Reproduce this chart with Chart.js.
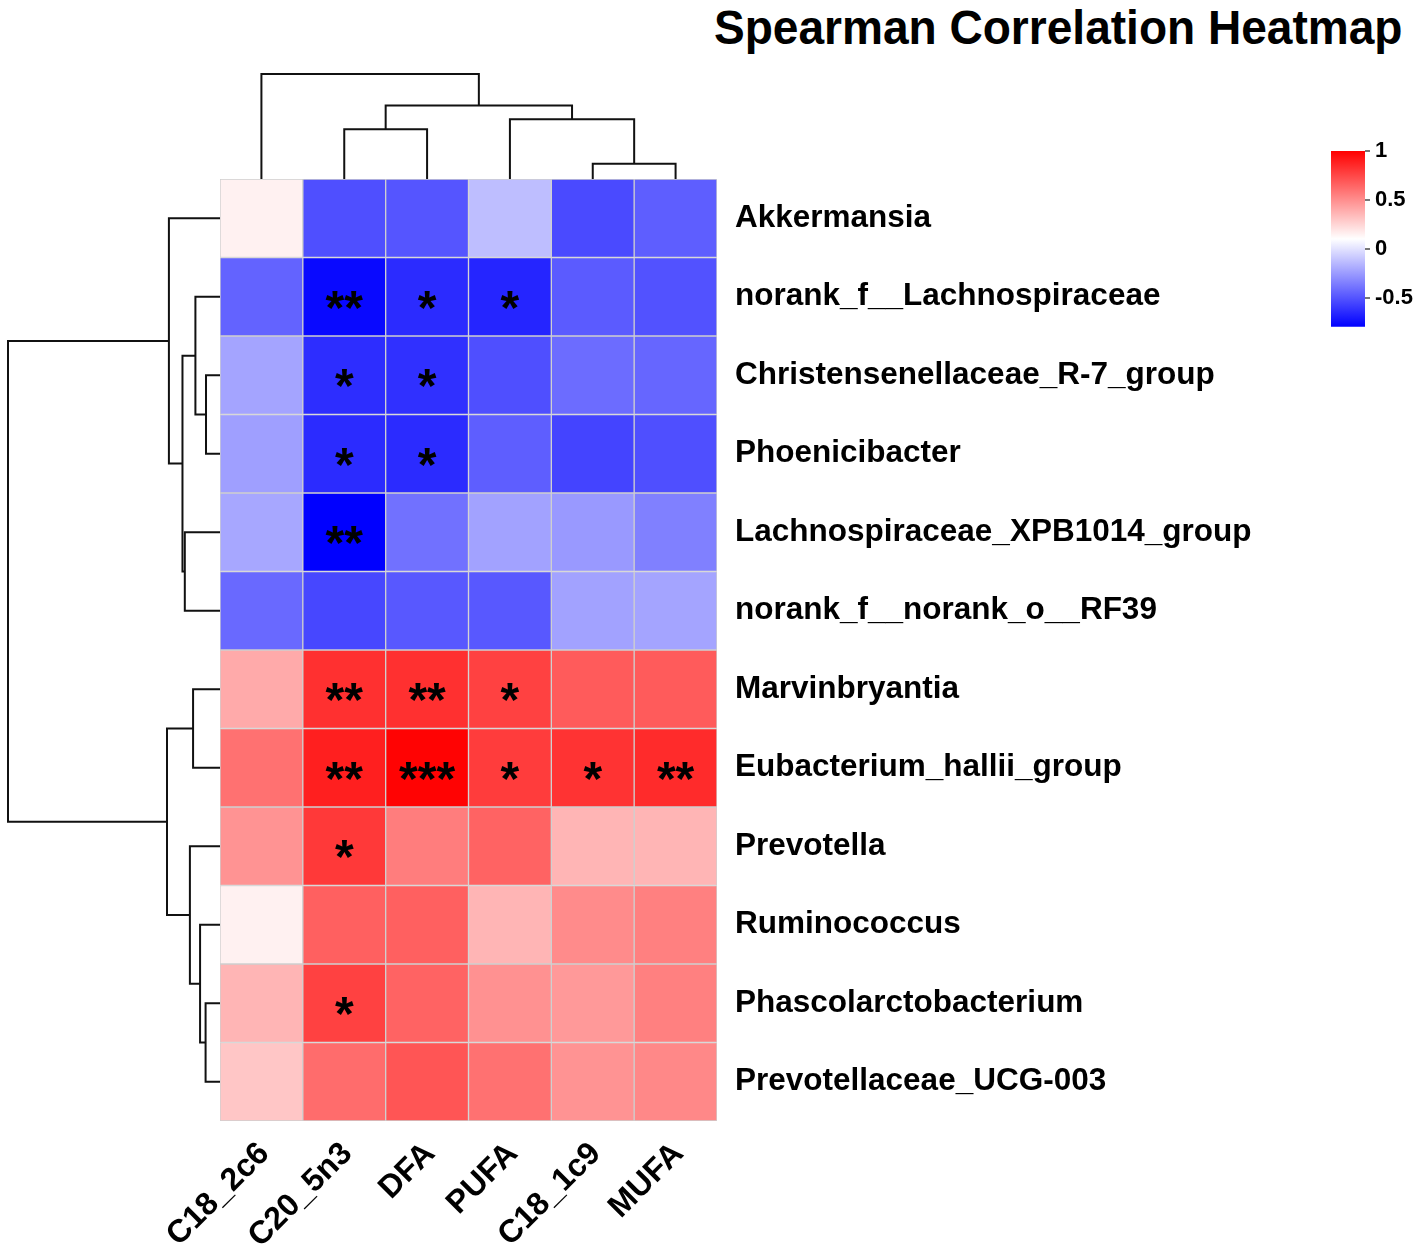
<!DOCTYPE html>
<html>
<head>
<meta charset="utf-8">
<script src="https://cdn.jsdelivr.net/npm/chart.js@4.4.1/dist/chart.umd.min.js"></script>
<style>
  html, body { margin: 0; padding: 0; background: #fff; }
  body { width: 1418px; height: 1244px; position: relative; overflow: hidden; font-family: 'Liberation Sans', Arial, sans-serif; }
  canvas { position: absolute; }
  #title { position: absolute; right: 16px; top: 3px; font-weight: bold; font-size: 49px; line-height: 49px;
           transform: scaleX(0.94); transform-origin: right center; white-space: nowrap; color: #000; }
</style>
</head>
<body>
<div id="title">Spearman Correlation Heatmap</div>
<canvas id="rowTree" width="226" height="960" style="left:0;top:170px"></canvas>
<canvas id="colTree" width="509" height="118" style="left:214px;top:68px"></canvas>
<canvas id="heat" width="1318" height="1144" style="left:100px;top:100px"></canvas>
<canvas id="legend" width="93" height="215" style="left:1325px;top:130px"></canvas>
<script>
// columns (fatty acids) and rows (genera), in clustered display order
const colLabels = ['C18_2c6', 'C20_5n3', 'DFA', 'PUFA', 'C18_1c9', 'MUFA'];
const rowLabels = [
  'Akkermansia',
  'norank_f__Lachnospiraceae',
  'Christensenellaceae_R-7_group',
  'Phoenicibacter',
  'Lachnospiraceae_XPB1014_group',
  'norank_f__norank_o__RF39',
  'Marvinbryantia',
  'Eubacterium_hallii_group',
  'Prevotella',
  'Ruminococcus',
  'Phascolarctobacterium',
  'Prevotellaceae_UCG-003'
];

// spearman rho, one row per genus, columns as colLabels
const rho = [
  [ 0.15, -0.52, -0.50, -0.13, -0.54, -0.47],
  [-0.45, -0.77, -0.65, -0.67, -0.48, -0.51],
  [-0.22, -0.64, -0.63, -0.52, -0.42, -0.44],
  [-0.24, -0.65, -0.65, -0.47, -0.56, -0.52],
  [-0.21, -0.80, -0.40, -0.23, -0.26, -0.35],
  [-0.43, -0.55, -0.49, -0.49, -0.23, -0.22],
  [ 0.40,  0.83,  0.83,  0.77,  0.68,  0.68],
  [ 0.60,  0.89,  0.99,  0.79,  0.82,  0.85],
  [ 0.48,  0.80,  0.56,  0.65,  0.36,  0.36],
  [ 0.15,  0.66,  0.66,  0.36,  0.51,  0.55],
  [ 0.36,  0.77,  0.65,  0.49,  0.46,  0.55],
  [ 0.30,  0.62,  0.70,  0.60,  0.48,  0.52]
];

// significance marks
const stars = [
  ['', '', '', '', '', ''],
  ['', '**', '*', '*', '', ''],
  ['', '*', '*', '', '', ''],
  ['', '*', '*', '', '', ''],
  ['', '**', '', '', '', ''],
  ['', '', '', '', '', ''],
  ['', '**', '**', '*', '', ''],
  ['', '**', '***', '*', '*', '**'],
  ['', '*', '', '', '', ''],
  ['', '', '', '', '', ''],
  ['', '*', '', '', '', ''],
  ['', '', '', '', '', '']
];

// hclust style merges: negative = leaf (1-based display position), positive = earlier merge
const colMerge = [[-5, -6], [-2, -3], [-4, 1], [2, 3], [-1, 4]];
const colHeight = [0.146, 0.475, 0.570, 0.700, 1.0];
const rowMerge = [[-3, -4], [-2, 1], [-5, -6], [2, 3], [-1, 4],
                  [-11, -12], [-10, 6], [-7, -8], [-9, 7], [8, 9], [5, 10]];
const rowHeight = [0.066, 0.116, 0.166, 0.177, 0.241, 0.068, 0.094, 0.127, 0.142, 0.250, 1.0];

const colorMin = -0.8;
const colorMax = 1;
const legendTicks = [-0.5, 0, 0.5, 1];

const FONT = "'Liberation Sans', Arial, sans-serif";
Chart.defaults.font.family = FONT;
Chart.defaults.animation = false;

// blue - white - red ramp across the data range
function rampColor(v) {
  const t = Math.min(1, Math.max(0, (v - colorMin) / (colorMax - colorMin)));
  let r, g, b;
  if (t < 0.5) { r = g = Math.round(510 * t); b = 255; }
  else { r = 255; g = b = Math.round(255 * (2 - 2 * t)); }
  return 'rgb(' + r + ',' + g + ',' + b + ')';
}

// turn a merge table into one polyline dataset per merge
function treeDatasets(merge, heights, leafAxisIsX) {
  const nodes = [];
  const child = id => id < 0 ? { pos: -id - 0.5, h: 0 } : nodes[id - 1];
  return merge.map((m, k) => {
    const a = child(m[0]), b = child(m[1]), h = heights[k];
    nodes.push({ pos: (a.pos + b.pos) / 2, h: h });
    const pts = [[a.pos, a.h], [a.pos, h], [b.pos, h], [b.pos, b.h]];
    return {
      data: pts.map(p => leafAxisIsX ? { x: p[0], y: p[1] } : { x: p[1], y: p[0] }),
      showLine: true, pointRadius: 0, borderColor: '#111', borderWidth: 2,
      fill: false, tension: 0, clip: false
    };
  });
}

const noPlugins = { legend: { display: false }, tooltip: { enabled: false } };

// top dendrogram
new Chart(document.getElementById('colTree'), {
  type: 'scatter',
  data: { datasets: treeDatasets(colMerge, colHeight, true) },
  options: {
    responsive: false, plugins: noPlugins,
    layout: { padding: { left: 6, right: 6, top: 6, bottom: 7 } },
    scales: {
      x: { type: 'linear', min: 0, max: colLabels.length, display: false },
      y: { type: 'linear', min: 0, max: 1, display: false }
    }
  }
});

// left dendrogram
new Chart(document.getElementById('rowTree'), {
  type: 'scatter',
  data: { datasets: treeDatasets(rowMerge, rowHeight, false) },
  options: {
    responsive: false, plugins: noPlugins,
    layout: { padding: { left: 8, right: 6, top: 9, bottom: 9 } },
    scales: {
      x: { type: 'linear', min: 0, max: 1, reverse: true, display: false },
      y: { type: 'linear', min: 0, max: rowLabels.length, reverse: true, display: false }
    }
  }
});

const starPlugin = {
  id: 'stars',
  afterDatasetsDraw(chart) {
    const { ctx } = chart;
    const xs = chart.scales.x, ys = chart.scales.y;
    ctx.save();
    ctx.font = 'bold 48px ' + FONT;
    ctx.fillStyle = '#000';
    ctx.textAlign = 'center';
    ctx.textBaseline = 'alphabetic';
    stars.forEach((row, i) => row.forEach((s, j) => {
      if (!s) return;
      const m = ctx.measureText(s);
      const cx = xs.getPixelForValue(j);
      const cy = ys.getPixelForValue(i + 0.5);
      ctx.fillText(s, cx, cy + (m.actualBoundingBoxAscent - m.actualBoundingBoxDescent) / 2 + 3);
    }));
    ctx.restore();
  }
};

// heatmap cells: one floating-bar dataset per row
new Chart(document.getElementById('heat'), {
  type: 'bar',
  data: {
    labels: colLabels,
    datasets: rowLabels.map((name, i) => ({
      label: name,
      data: colLabels.map(() => [i, i + 1]),
      backgroundColor: rho[i].map(rampColor),
      borderColor: '#cfcfcf',
      borderWidth: 1,
      borderSkipped: false,
      barPercentage: 1,
      categoryPercentage: 1,
      grouped: false
    }))
  },
  options: {
    responsive: false, plugins: noPlugins,
    layout: { padding: { left: 120, top: 79, right: 0, bottom: 0 } },
    scales: {
      x: {
        grid: { display: false, drawTicks: false },
        border: { display: false },
        ticks: { minRotation: 45, maxRotation: 45, autoSkip: false, color: '#000',
                 font: { size: 32, weight: 'bold' }, padding: 14, labelOffset: 3 },
        afterFit(s) { s.height = 123; }
      },
      y: {
        type: 'linear', min: 0, max: rowLabels.length, reverse: true, position: 'right',
        grid: { display: false, drawTicks: false },
        border: { display: false },
        afterBuildTicks(s) { s.ticks = rowLabels.map((_, i) => ({ value: i + 0.5 })); },
        ticks: { callback: (v, i) => rowLabels[i], color: '#000',
                 font: { size: 31.5, weight: 'bold' }, padding: 18 },
        afterFit(s) { s.width = 701; }
      }
    }
  },
  plugins: [starPlugin]
});

// colour key
new Chart(document.getElementById('legend'), {
  type: 'bar',
  data: {
    labels: ['rho'],
    datasets: [{
      data: [[colorMin, colorMax]],
      backgroundColor(c) {
        const ch = c.chart;
        if (!ch.chartArea) return null;
        const ys = ch.scales.y;
        const g = ch.ctx.createLinearGradient(0, ys.getPixelForValue(colorMin), 0, ys.getPixelForValue(colorMax));
        g.addColorStop(0, rampColor(colorMin));
        g.addColorStop(0.5, rampColor((colorMin + colorMax) / 2));
        g.addColorStop(1, rampColor(colorMax));
        return g;
      },
      borderWidth: 0, barPercentage: 1, categoryPercentage: 1
    }]
  },
  options: {
    responsive: false, plugins: noPlugins,
    layout: { padding: { left: 6, top: 21, right: 0, bottom: 17 } },
    scales: {
      x: { display: false },
      y: {
        min: colorMin, max: colorMax, position: 'right',
        grid: { drawOnChartArea: false, drawTicks: true, tickLength: 5, color: '#777', lineWidth: 2 },
        border: { display: false },
        afterBuildTicks(s) { s.ticks = legendTicks.map(v => ({ value: v })); },
        ticks: { callback: v => String(v), color: '#000', font: { size: 22, weight: 'bold' }, padding: 5 },
        afterFit(s) { s.width = 53; }
      }
    }
  }
});
</script>
</body>
</html>
